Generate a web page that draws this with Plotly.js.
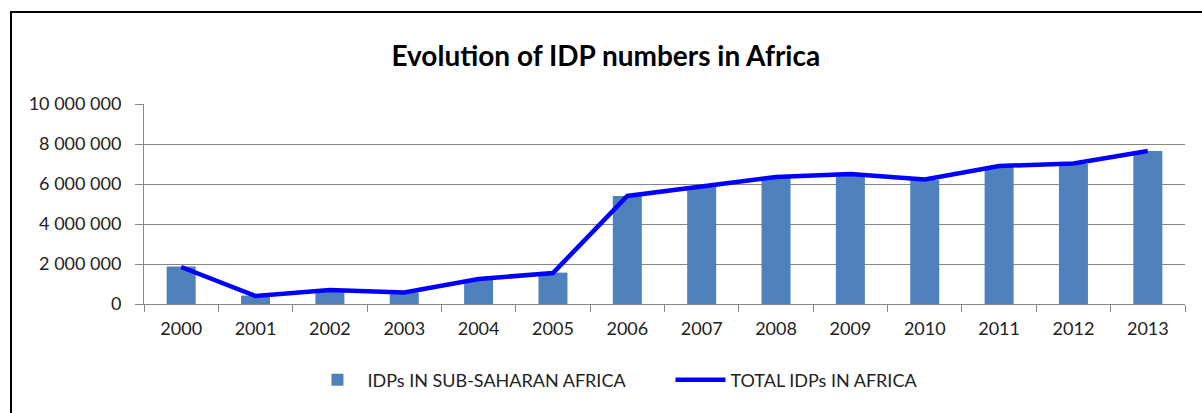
<!DOCTYPE html>
<html>
<head>
<meta charset="utf-8">
<script src="https://cdn.plot.ly/plotly-3.0.1.min.js"></script>
<style>
  body { margin: 0; background: #fff; }
  #chart { position: absolute; left: 0; top: 0; width: 1202px; height: 413px; }
  #frame { position: absolute; left: 10px; top: 11px; width: 1200px; height: 410px;
           border-left: 2px solid #000; border-top: 2px solid #000; pointer-events: none; }
</style>
</head>
<body>
<div id="chart"></div>
<div id="frame"></div>
<script>
// years on the category axis
const years = ["2000", "2001", "2002", "2003", "2004", "2005", "2006",
               "2007", "2008", "2009", "2010", "2011", "2012", "2013"];

// IDPs in sub-Saharan Africa (bars)
const subSaharan = [1870000, 420000, 700000, 580000, 1200000, 1570000, 5400000,
                    5870000, 6330000, 6450000, 6200000, 6850000, 7000000, 7650000];

// total IDPs in Africa (line)
const totalAfrica = [1850000, 400000, 700000, 580000, 1250000, 1550000, 5400000,
                     5900000, 6350000, 6500000, 6230000, 6900000, 7030000, 7650000];

const font = "Lato, 'DejaVu Sans', sans-serif";

var traceBars = {
    x: years,
    y: subSaharan,
    type: "bar",
    name: "IDPs IN SUB-SAHARAN AFRICA",
    marker: { color: "#4F81BD" },
    hoverinfo: "x+y"
};

var traceLine = {
    x: years,
    y: totalAfrica,
    type: "scatter",
    mode: "lines",
    name: "TOTAL IDPs IN AFRICA",
    line: { color: "#0000FF", width: 4.5 }
};

var layout = {
    width: 1202,
    height: 413,
    margin: { l: 144, r: 17, t: 104, b: 109 },
    paper_bgcolor: "#fff",
    plot_bgcolor: "#fff",
    separators: ". ",
    font: { family: font, size: 18, color: "#222" },
    title: {
        text: "<b>Evolution of IDP numbers in Africa</b>",
        font: { family: font, size: 28, color: "#000" },
        x: 0.504,
        xanchor: "center",
        y: 0.865,
        yanchor: "middle"
    },
    bargap: 0.61,
    showlegend: true,
    legend: {
        orientation: "h",
        x: 0.157,
        xanchor: "left",
        y: -0.38,
        yanchor: "middle",
        itemwidth: 50,
        entrywidth: 298,
        font: { family: font, size: 18, color: "#222" }
    },
    xaxis: {
        type: "category",
        tickson: "boundaries",
        ticks: "outside",
        ticklen: 7,
        tickcolor: "#868686",
        showline: true,
        linecolor: "#868686",
        linewidth: 1,
        showgrid: false,
        zeroline: false,
        ticklabelstandoff: 8,
        fixedrange: true
    },
    yaxis: {
        range: [0, 10000000],
        dtick: 2000000,
        tickformat: ",d",
        ticks: "outside",
        ticklen: 8,
        tickcolor: "#868686",
        showline: true,
        linecolor: "#868686",
        linewidth: 1,
        gridcolor: "#868686",
        gridwidth: 1,
        zeroline: false,
        ticklabelstandoff: 10,
        fixedrange: true
    }
};

Plotly.newPlot("chart", [traceBars, traceLine], layout, { displayModeBar: false, staticPlot: true });
</script>
</body>
</html>
